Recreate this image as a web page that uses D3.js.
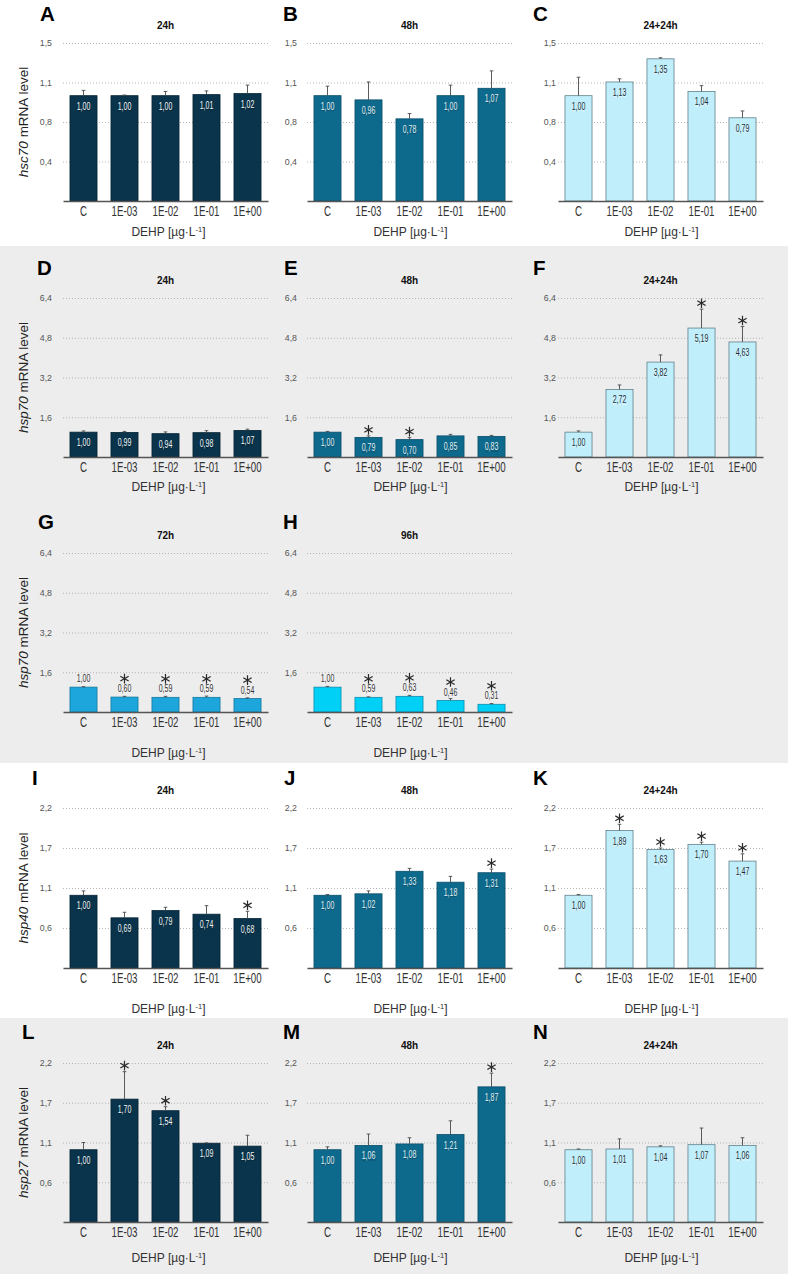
<!DOCTYPE html>
<html><head><meta charset="utf-8">
<script src="https://cdn.jsdelivr.net/npm/d3@7"></script>
<style>body{margin:0;background:#fff}svg{display:block}</style>
</head><body>
<svg id="c" width="788" height="1274"></svg>
<script>
// ---------- DATA ----------
const categories = ["C", "1E-03", "1E-02", "1E-01", "1E+00"];
const xTitle = "DEHP [µg·L";

const genes = ["hsc70", "hsp70", "hsp70", "hsp40", "hsp27"];
const yMax = [1.5, 6.4, 6.4, 2.2, 2.2];
const tickLabelsHsc70 = ["0,4", "0,8", "1,1", "1,5"];
const tickLabelsHsp70 = ["1,6", "3,2", "4,8", "6,4"];
const tickLabelsHsp40 = ["0,6", "1,1", "1,7", "2,2"];
const tickLabelsHsp27 = ["0,6", "1,1", "1,7", "2,2"];

const valuesA = [1.00, 1.00, 1.00, 1.01, 1.02];
const errorsA = [0.05, 0.006, 0.04, 0.035, 0.08];
const starsA  = [0, 0, 0, 0, 0];
const valuesB = [1.00, 0.96, 0.78, 1.00, 1.07];
const errorsB = [0.09, 0.17, 0.05, 0.10, 0.165];
const starsB  = [0, 0, 0, 0, 0];
const valuesC = [1.00, 1.13, 1.35, 1.04, 0.79];
const errorsC = [0.175, 0.03, 0.01, 0.055, 0.065];
const starsC  = [0, 0, 0, 0, 0];

const valuesD = [1.00, 0.99, 0.94, 0.98, 1.07];
const errorsD = [0.05, 0.04, 0.07, 0.08, 0.05];
const starsD  = [0, 0, 0, 0, 0];
const valuesE = [1.00, 0.79, 0.70, 0.85, 0.83];
const errorsE = [0.03, 0.06, 0.08, 0.06, 0.04];
const starsE  = [0, 1, 1, 0, 0];
const valuesF = [1.00, 2.72, 3.82, 5.19, 4.63];
const errorsF = [0.05, 0.18, 0.29, 0.76, 0.62];
const starsF  = [0, 0, 0, 1, 1];

const valuesG = [1.00, 0.60, 0.59, 0.59, 0.54];
const errorsG = [0.02, 0.03, 0.04, 0.05, 0.03];
const starsG  = [0, 1, 1, 1, 1];
const valuesH = [1.00, 0.59, 0.63, 0.46, 0.31];
const errorsH = [0.03, 0.02, 0.04, 0.08, 0.03];
const starsH  = [0, 1, 1, 1, 1];

const valuesI = [1.00, 0.69, 0.79, 0.74, 0.68];
const errorsI = [0.06, 0.076, 0.045, 0.117, 0.10];
const starsI  = [0, 0, 0, 0, 1];
const valuesJ = [1.00, 1.02, 1.33, 1.18, 1.31];
const errorsJ = [0.01, 0.04, 0.04, 0.08, 0.05];
const starsJ  = [0, 0, 0, 0, 1];
const valuesK = [1.00, 1.89, 1.63, 1.70, 1.47];
const errorsK = [0.01, 0.086, 0.02, 0.03, 0.10];
const starsK  = [0, 1, 1, 1, 1];

const valuesL = [1.00, 1.70, 1.54, 1.09, 1.05];
const errorsL = [0.10, 0.38, 0.055, 0.005, 0.15];
const starsL  = [0, 1, 1, 0, 0];
const valuesM = [1.00, 1.06, 1.08, 1.21, 1.87];
const errorsM = [0.04, 0.157, 0.086, 0.19, 0.19];
const starsM  = [0, 0, 0, 0, 1];
const valuesN = [1.00, 1.01, 1.04, 1.07, 1.06];
const errorsN = [0.01, 0.14, 0.015, 0.23, 0.106];
const starsN  = [0, 0, 0, 0, 0];

// ---------- LAYOUT ----------
const W = 788, H = 1274;
const colX = [63, 307, 558], plotW = 205;
const tickPad = [11, 10, 2];
const rowTop = [43, 298, 553, 808, 1063];
const rowBase = [201, 457, 712, 968, 1222];
const rowXTitle = [236, 491, 757, 1013, 1262];
const rowLetter = [21, 275, 529, 785, 1039];

const styles = {
  dark:   {fill: "#0a344b", stroke: "#072535", label: "#f2f6f8", halo: "rgba(0,0,0,0.35)", above: false},
  medium: {fill: "#0e6a8d", stroke: "#0a4e69", label: "#e3f0f5", halo: "rgba(0,0,0,0.3)", above: false},
  light:  {fill: "#c0eefb", stroke: "#62818a", label: "#1a2c33", halo: "rgba(255,255,255,0.7)", above: false},
  g:      {fill: "#1ca6dc", stroke: "#13789f", label: "#333", halo: "rgba(255,255,255,0.8)", above: true},
  h:      {fill: "#00d0f6", stroke: "#0b8db0", label: "#333", halo: "rgba(255,255,255,0.8)", above: true}
};

const tickLabelsByRow = [tickLabelsHsc70, tickLabelsHsp70, tickLabelsHsp70, tickLabelsHsp40, tickLabelsHsp27];

const panels = [
  {id:"A", row:0, col:0, lx:40,  title:"24h",    v:valuesA, e:errorsA, s:starsA, st:"dark"},
  {id:"B", row:0, col:1, lx:283, title:"48h",    v:valuesB, e:errorsB, s:starsB, st:"medium"},
  {id:"C", row:0, col:2, lx:533, title:"24+24h", v:valuesC, e:errorsC, s:starsC, st:"light"},
  {id:"D", row:1, col:0, lx:37,  title:"24h",    v:valuesD, e:errorsD, s:starsD, st:"dark"},
  {id:"E", row:1, col:1, lx:284, title:"48h",    v:valuesE, e:errorsE, s:starsE, st:"medium"},
  {id:"F", row:1, col:2, lx:533, title:"24+24h", v:valuesF, e:errorsF, s:starsF, st:"light"},
  {id:"G", row:2, col:0, lx:38,  title:"72h",    v:valuesG, e:errorsG, s:starsG, st:"g"},
  {id:"H", row:2, col:1, lx:283, title:"96h",    v:valuesH, e:errorsH, s:starsH, st:"h"},
  {id:"I", row:3, col:0, lx:32,  title:"24h",    v:valuesI, e:errorsI, s:starsI, st:"dark"},
  {id:"J", row:3, col:1, lx:284, title:"48h",    v:valuesJ, e:errorsJ, s:starsJ, st:"medium"},
  {id:"K", row:3, col:2, lx:533, title:"24+24h", v:valuesK, e:errorsK, s:starsK, st:"light"},
  {id:"L", row:4, col:0, lx:22,  title:"24h",    v:valuesL, e:errorsL, s:starsL, st:"dark"},
  {id:"M", row:4, col:1, lx:283, title:"48h",    v:valuesM, e:errorsM, s:starsM, st:"medium"},
  {id:"N", row:4, col:2, lx:533, title:"24+24h", v:valuesN, e:errorsN, s:starsN, st:"light"}
];

const FONT = "'Liberation Sans', Arial, Helvetica, sans-serif";
const svg = d3.select("#c").attr("font-family", FONT);

// backgrounds
const bands = [[0, 246, "#ffffff"], [246, 517, "#ededed"], [763, 255, "#ffffff"], [1018, 256, "#ededed"]];
svg.selectAll("rect.bg").data(bands).join("rect").attr("class", "bg")
  .attr("x", 0).attr("width", W).attr("y", d => d[0]).attr("height", d => d[1]).attr("fill", d => d[2]);

// y titles (first column)
[0, 1, 2, 3, 4].forEach(r => {
  const cy = (rowTop[r] + rowBase[r]) / 2;
  const t = svg.append("text")
    .attr("transform", `translate(28,${cy}) rotate(-90)`)
    .attr("text-anchor", "middle").attr("font-size", 13.5).attr("fill", "#222");
  t.append("tspan").attr("font-style", "italic").text(genes[r]);
  t.append("tspan").text(" mRNA level");
});

function star(g, cx, cy) {
  const r = 4.8;
  const angles = [90, 30, -30].map(a => a * Math.PI / 180);
  const p = angles.map(a => `M${cx - r * Math.cos(a)},${cy - r * Math.sin(a)}L${cx + r * Math.cos(a)},${cy + r * Math.sin(a)}`).join("");
  g.append("path").attr("d", p).attr("stroke", "#2a2a2a").attr("stroke-width", 1.2).attr("fill", "none");
}

panels.forEach(P => {
  const r = P.row, c = P.col, S = styles[P.st];
  const x0 = colX[c];
  const x = d3.scaleBand().domain(categories).range([x0, x0 + plotW]).paddingInner(0.34).paddingOuter(0.17);
  const y = d3.scaleLinear().domain([0, yMax[r]]).range([rowBase[r], rowTop[r]]);
  const tickVals = [1, 2, 3, 4].map(i => yMax[r] * i / 4);
  const labels = tickLabelsByRow[r];
  const g = svg.append("g");

  // letter & title
  g.append("text").attr("x", P.lx).attr("y", rowLetter[r]).attr("font-size", 20.5).attr("font-weight", "bold")
    .attr("fill", "#000").text(P.id);
  g.append("text").attr("x", x0 + plotW / 2).attr("y", rowTop[r] - 14).attr("text-anchor", "middle")
    .attr("font-size", 10).attr("font-weight", "bold").attr("fill", "#111").text(P.title);

  // y axis (grid + labels)
  const ya = g.append("g").attr("transform", `translate(${x0},0)`)
    .call(d3.axisLeft(y).tickValues(tickVals).tickSizeInner(-plotW).tickSizeOuter(0).tickPadding(tickPad[c])
      .tickFormat((d, i) => labels[i]));
  ya.select(".domain").remove();
  ya.selectAll(".tick line").attr("stroke", "#a5a5a5").attr("stroke-width", 0.8).attr("stroke-dasharray", "1,2");
  ya.selectAll(".tick text").attr("font-size", 8.8).attr("fill", "#555").attr("font-family", FONT);

  // bars
  const data = categories.map((k, i) => ({k, v: P.v[i], e: P.e[i], s: P.s[i]}));
  g.selectAll("rect.bar").data(data).join("rect").attr("class", "bar")
    .attr("x", d => x(d.k)).attr("width", x.bandwidth())
    .attr("y", d => y(d.v)).attr("height", d => y(0) - y(d.v))
    .attr("fill", S.fill).attr("stroke", S.stroke).attr("stroke-width", 0.8);

  // error bars
  data.forEach(d => {
    const cx = x(d.k) + x.bandwidth() / 2;
    const yt = y(d.v + d.e);
    g.append("path").attr("d", `M${cx},${y(d.v)}V${yt}M${cx - 1.8},${yt}H${cx + 1.8}`)
      .attr("stroke", "#4a4a4a").attr("stroke-width", 0.9).attr("fill", "none");
  });

  // x axis
  const xa = g.append("g").attr("transform", `translate(0,${rowBase[r]})`)
    .call(d3.axisBottom(x).tickSize(0).tickPadding(5));
  xa.select(".domain").attr("stroke", "#555").attr("stroke-width", 1.5);
  xa.selectAll(".tick text").attr("font-size", 14.5).attr("fill", "#333").attr("font-family", FONT)
    .attr("transform", "scale(0.67,1)");

  // value labels & stars
  data.forEach(d => {
    const cx = x(d.k) + x.bandwidth() / 2;
    let ly;
    if (S.above) ly = y(d.v) - 5; else ly = y(d.v) + 14;
    const lg = g.append("g").attr("transform", `translate(${cx},${ly}) scale(0.7,1)`);
    lg.append("text").attr("text-anchor", "middle").attr("font-size", 10).attr("fill", S.label)
      .style("text-shadow", `0 1px 1px ${S.halo}`)
      .text(d.v.toFixed(2).replace(".", ","));
    if (d.s) {
      if (S.above) star(g, cx, ly - 13.5);
      else star(g, cx, y(d.v + d.e) - 6);
    }
  });

  // x title
  const xt = g.append("text").attr("x", x0 + plotW / 2 + (c === 0 ? 3 : 1)).attr("y", rowXTitle[r])
    .attr("text-anchor", "middle").attr("font-size", 12).attr("fill", "#333");
  xt.append("tspan").text(xTitle);
  xt.append("tspan").attr("font-size", 7.5).attr("dy", -4.5).text("-1");
  xt.append("tspan").attr("dy", 4.5).text("]");
});
</script>
</body></html>
